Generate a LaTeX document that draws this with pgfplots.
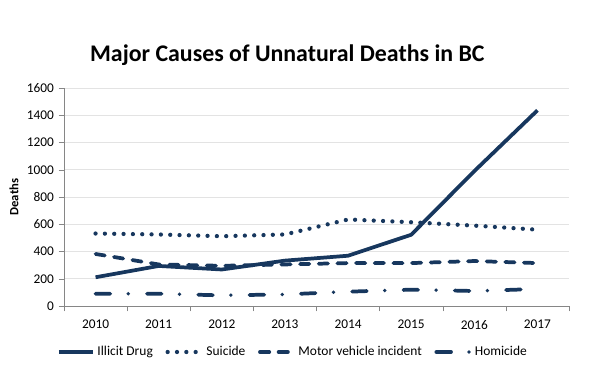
\documentclass[border=0pt]{standalone}
\usepackage{fontspec}
\setmainfont{Carlito}
\usepackage{pgfplots}
\pgfplotsset{compat=1.18}
\definecolor{navy}{HTML}{17375E}
\definecolor{axgray}{HTML}{868686}
\definecolor{gridgray}{HTML}{E3E3E3}
\begin{document}
\begin{tikzpicture}
\useasboundingbox (0pt,0pt) rectangle (453.75pt,286.5pt);
\node[font=\bfseries\fontsize{17.9}{20}\selectfont] at (215.5pt,245.5pt) {Major Causes of Unnatural Deaths in BC};
\begin{axis}[
  at={(48pt,57pt)}, anchor=south west,
  scale only axis, width=378.75pt, height=163.5pt,
  xmin=-0.5, xmax=7.5, ymin=0, ymax=1600,
  xtick={0,...,7},
  xticklabels={2010,2011,2012,2013,2014,2015,2016,2017},
  minor xtick={-0.5,0.5,...,7.5},
  ytick={0,200,...,1600},
  axis x line*=bottom, axis y line*=left,
  axis line style={axgray,-},
  major x tick style={draw=none},
  minor x tick style={axgray},
  y tick style={axgray},
  tick align=outside,
  major tick length=4pt, minor tick length=4pt,
  ymajorgrids, grid style={gridgray, line width=0.6pt},
  /pgf/number format/assume math mode=true,
  /pgf/number format/1000 sep={},
  yticklabel style={font=\fontsize{10}{12}\selectfont},
  xticklabel style={font=\fontsize{10}{12}\selectfont, yshift=-3pt},
  ylabel={\textbf{Deaths}},
  ylabel style={at={(axis description cs:-0.099,0.5)}, anchor=center, rotate=0, font=\fontsize{9.5}{12}\selectfont},
  legend style={at={(0.454,-0.211)}, anchor=center, draw=none, fill=none,
    legend columns=4, font=\fontsize{10.1}{12}\selectfont,
    /tikz/every even column/.append style={column sep=7.5pt},
    /tikz/every odd column/.append style={column sep=0pt}},
  legend image code/.code={\draw[#1] (0pt,0pt) -- (25.5pt,0pt);},
  clip=false,
]
\addplot[navy, line width=2.8pt, line join=round] coordinates {
(0,211) (1,294) (2,268) (3,333) (4,369) (5,523) (6,990) (7,1436)};
\addlegendentry{Illicit Drug}
\addplot[navy, line width=3.2pt, line cap=round, dash pattern=on 0pt off 7pt] coordinates {
(0,532) (1,525) (2,512) (3,525) (4,635) (5,615) (6,590) (7,560)};
\addlegendentry{Suicide}
\addplot[navy, line width=2.8pt, line cap=round, dash pattern=on 7pt off 7pt] coordinates {
(0,382) (1,305) (2,295) (3,305) (4,315) (5,315) (6,330) (7,315)};
\addlegendentry{Motor vehicle incident}
\addplot[navy, line width=2.8pt, line cap=round, dash pattern=on 11pt off 13.5pt on 0pt off 14pt] coordinates {
(0,90) (1,90) (2,78) (3,85) (4,105) (5,120) (6,110) (7,125)};
\addlegendentry{Homicide}
\end{axis}
\end{tikzpicture}
\end{document}
